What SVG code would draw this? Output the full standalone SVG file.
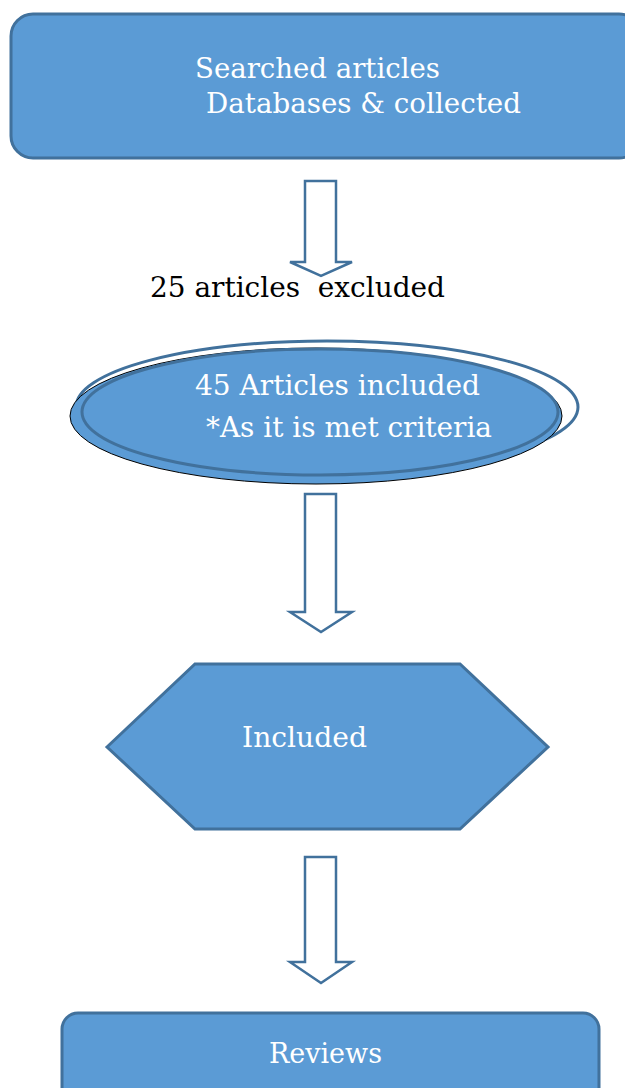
<svg xmlns="http://www.w3.org/2000/svg" width="625" height="1088" viewBox="0 0 625 1088">
<style>
.box{fill:#5b9bd5;stroke:#41719c;stroke-width:3}
.arr{fill:#fff;stroke:#41719c;stroke-width:2.5;stroke-linejoin:miter}
.t{font-family:"DejaVu Serif","Liberation Serif",serif;font-size:27px;fill:#fff}
.k{font-family:"DejaVu Serif","Liberation Serif",serif;font-size:27px;fill:#000}
</style>
<rect width="625" height="1088" fill="#fff"/>
<g id="connectors">
<path class="arr" d="M305,181 H336 V262 H352 L321,276 L290,262 H305 Z"/>
<path class="arr" d="M305,494 H336 V612 H352 L321,632 L290,612 H305 Z"/>
<path class="arr" d="M305,857 H336 V962 H352 L321,983 L290,962 H305 Z"/>
</g>
<g id="searched">
<rect class="box" x="11" y="14" width="630" height="144" rx="22"/>
<text class="t" x="195" y="78" textLength="245" lengthAdjust="spacingAndGlyphs">Searched articles</text>
<text class="t" x="206" y="113" textLength="315" lengthAdjust="spacingAndGlyphs">Databases &amp; collected</text>
</g>
<g id="excluded">
<text class="k" x="150" y="297" textLength="295" lengthAdjust="spacingAndGlyphs" xml:space="preserve">25 articles  excluded</text>
</g>
<g id="included45">
<ellipse cx="327" cy="407" rx="251" ry="66" fill="#fff" stroke="#41719c" stroke-width="3"/>
<ellipse cx="316" cy="416" rx="246" ry="68" fill="#5b9bd5" stroke="#000" stroke-width="1"/>
<ellipse cx="320" cy="412" rx="238" ry="63" fill="none" stroke="#41719c" stroke-width="3"/>
<text class="t" x="195" y="395" textLength="285" lengthAdjust="spacingAndGlyphs">45 Articles included</text>
<text class="t" x="206" y="437" textLength="286" lengthAdjust="spacingAndGlyphs">*As it is met criteria</text>
</g>
<g id="included">
<polygon class="box" points="107,747 195,664 460,664 548,747 460,829 195,829"/>
<text class="t" x="242" y="747" textLength="125" lengthAdjust="spacingAndGlyphs">Included</text>
</g>
<g id="reviews">
<rect class="box" x="62" y="1013" width="537" height="100" rx="16"/>
<text class="t" x="269" y="1063" textLength="113" lengthAdjust="spacingAndGlyphs">Reviews</text>
</g>
</svg>
